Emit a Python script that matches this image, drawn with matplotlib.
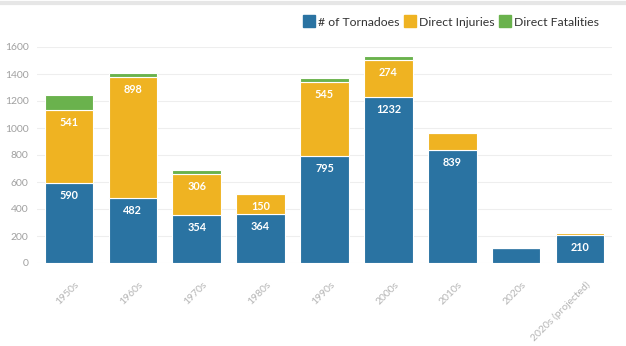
import matplotlib
matplotlib.use("Agg")
import matplotlib.pyplot as plt
from matplotlib.lines import Line2D
from matplotlib.transforms import ScaledTranslation
import numpy as np

plt.rcParams["font.family"] = ["Lato", "DejaVu Sans"]

decades = ["1950s", "1960s", "1970s", "1980s", "1990s", "2000s", "2010s", "2020s", "2020s (projected)"]
tornadoes = [590, 482, 354, 364, 795, 1232, 839, 113, 210]
injuries = [541, 898, 306, 150, 545, 274, 122, 0, 12]
fatalities = [114, 25, 30, 4, 27, 28, 0, 0, 0]
show_tornado_label = [True, True, True, True, True, True, True, False, True]
show_injury_label = [True, True, True, True, True, True, False, False, False]

BLUE = "#2a73a2"
YELLOW = "#efb322"
GREEN = "#6ab24d"

fig = plt.figure(figsize=(6.26, 3.46), dpi=100)
ax = fig.add_axes([37 / 626, 1 - 263 / 346, (612 - 37) / 626, (263 - 47) / 346])

x = np.arange(len(decades))
w = 0.76
tor = np.array(tornadoes)
inj = np.array(injuries)
fat = np.array(fatalities)

ax.bar(x, tor, w, color=BLUE, edgecolor="white", linewidth=0.8, zorder=3)
ax.bar(x, inj, w, bottom=tor, color=YELLOW, edgecolor="white", linewidth=0.8, zorder=3)
ax.bar(x, fat, w, bottom=tor + inj, color=GREEN, edgecolor="white", linewidth=0.8, zorder=3)

for i in range(len(decades)):
    if show_tornado_label[i]:
        ax.annotate(str(tornadoes[i]), (x[i], tor[i]), xytext=(0, -9), textcoords="offset points",
                    ha="center", va="center", color="white", fontsize=7.8, fontweight="bold", zorder=4)
    if show_injury_label[i]:
        ax.annotate(str(injuries[i]), (x[i], tor[i] + inj[i]), xytext=(0, -9), textcoords="offset points",
                    ha="center", va="center", color="white", fontsize=7.8, fontweight="bold", zorder=4)

ax.set_xlim(-0.5, len(decades) - 0.5)
ax.set_ylim(0, 1600)
ax.set_yticks(range(0, 1601, 200))
ax.grid(axis="y", color="#eeeeee", linewidth=0.8, zorder=0)
ax.set_xticks(x)
ax.set_xticklabels(decades, rotation=45, ha="right", rotation_mode="anchor")
ax.tick_params(axis="x", length=0, labelsize=7.5, labelcolor="#b5b5b5", pad=12)
ax.tick_params(axis="y", length=0, labelsize=7.5, labelcolor="#a0a0a0", pad=6)
shift = ScaledTranslation(4 / 72, 0, fig.dpi_scale_trans)
for lbl in ax.get_xticklabels():
    lbl.set_transform(lbl.get_transform() + shift)
for s in ax.spines.values():
    s.set_visible(False)

handles = [Line2D([0], [0], marker="s", linestyle="", markersize=8.5, color=c)
           for c in (BLUE, YELLOW, GREEN)]
fig.legend(handles, ["# of Tornadoes", "Direct Injuries", "Direct Fatalities"],
           loc="center right", bbox_to_anchor=(605 / 626, 1 - 22 / 346), ncol=3, frameon=False,
           fontsize=8.8, labelcolor="#333333", handletextpad=0.25, columnspacing=0.45,
           handlelength=0.9, borderpad=0)

fig.add_artist(Line2D([0, 1], [1 - 3 / 346, 1 - 3 / 346], color="#e6e6e6", linewidth=3))

fig.savefig("out.png", dpi=100)
